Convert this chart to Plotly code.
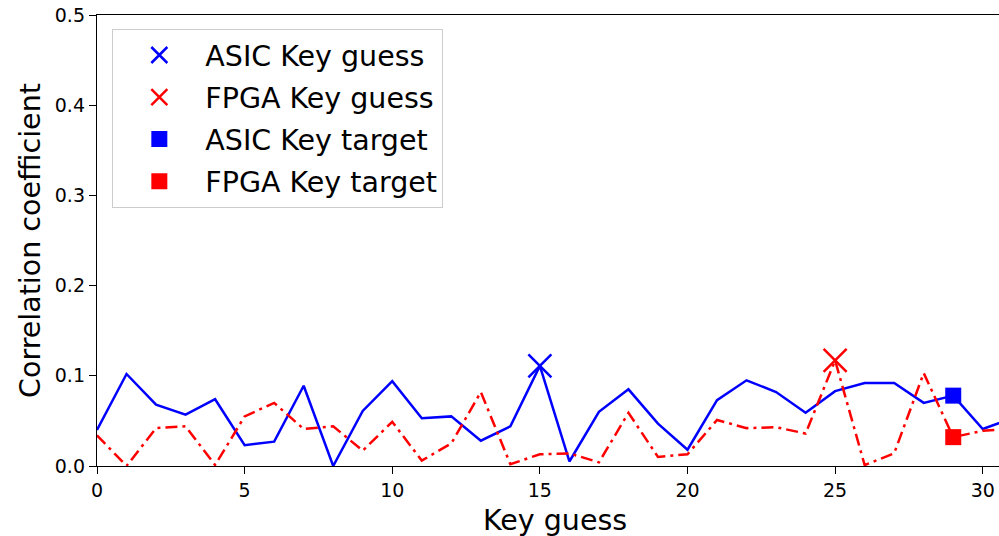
import plotly.graph_objects as go

# Key guess index (0..31)
key_guess = list(range(32))

# Correlation coefficient per key guess
asic_corr = [0.040, 0.102, 0.068, 0.057, 0.074, 0.023, 0.027, 0.089, 0.000, 0.061,
             0.094, 0.053, 0.055, 0.028, 0.044, 0.111, 0.005, 0.060, 0.085, 0.047,
             0.018, 0.073, 0.095, 0.082, 0.059, 0.083, 0.092, 0.092, 0.070, 0.078,
             0.041, 0.053]
fpga_corr = [0.034, 0.000, 0.042, 0.044, 0.001, 0.055, 0.070, 0.041, 0.044, 0.017,
             0.049, 0.006, 0.025, 0.082, 0.002, 0.013, 0.014, 0.004, 0.059, 0.010,
             0.013, 0.051, 0.042, 0.043, 0.036, 0.117, 0.001, 0.014, 0.103, 0.032,
             0.039, 0.041]

# Highlighted points
asic_guess_x, asic_guess_y = [15], [0.111]
fpga_guess_x, fpga_guess_y = [25], [0.117]
asic_target_x, asic_target_y = [29], [0.078]
fpga_target_x, fpga_target_y = [29], [0.032]

x_ticks = [0, 5, 10, 15, 20, 25, 30]
y_ticks = [0.0, 0.1, 0.2, 0.3, 0.4, 0.5]

BLUE = "#0000ff"
RED = "#ff0000"
FONT = "DejaVu Sans"

fig = go.Figure()

fig.add_trace(go.Scatter(x=key_guess, y=asic_corr, mode="lines",
                         line=dict(color=BLUE, width=2.5), showlegend=False))
fig.add_trace(go.Scatter(x=key_guess, y=fpga_corr, mode="lines",
                         line=dict(color=RED, width=2.5, dash="12px,5px,3px,5px"),
                         showlegend=False))

fig.add_trace(go.Scatter(x=asic_guess_x, y=asic_guess_y, mode="markers",
                         name="ASIC Key guess", legendgroup="a",
                         marker=dict(symbol="x-thin", size=23, color=BLUE,
                                     line=dict(color=BLUE, width=2.5))))
fig.add_trace(go.Scatter(x=fpga_guess_x, y=fpga_guess_y, mode="markers",
                         name="FPGA Key guess", legendgroup="b",
                         marker=dict(symbol="x-thin", size=23, color=RED,
                                     line=dict(color=RED, width=2.5))))
fig.add_trace(go.Scatter(x=asic_target_x, y=asic_target_y, mode="markers",
                         name="ASIC Key target", legendgroup="c",
                         marker=dict(symbol="square", size=16, color=BLUE)))
fig.add_trace(go.Scatter(x=fpga_target_x, y=fpga_target_y, mode="markers",
                         name="FPGA Key target", legendgroup="d",
                         marker=dict(symbol="square", size=16, color=RED)))

fig.add_annotation(text="Key guess", x=15.5, xref="x", y=-0.08, yref="paper",
                   yanchor="top", showarrow=False,
                   font=dict(family=FONT, size=28.5, color="black"))

fig.update_layout(
    width=999, height=536,
    margin=dict(l=97, r=0, t=15, b=70),
    paper_bgcolor="white", plot_bgcolor="white",
    font=dict(family=FONT, color="black"),
    legend=dict(x=0.017, y=0.969, xanchor="left", yanchor="top",
                bgcolor="white", bordercolor="#cccccc", borderwidth=1,
                font=dict(family=FONT, size=28.5, color="black"),
                tracegroupgap=2, traceorder="grouped", itemwidth=82),
    xaxis=dict(range=[0, 30.55], tickvals=x_ticks, showgrid=False, zeroline=False,
               showline=True, linecolor="black", linewidth=1.4, mirror=True,
               ticks="outside", ticklen=7, tickcolor="black", tickwidth=1.4,
               tickfont=dict(family=FONT, size=19)),
    yaxis=dict(range=[0, 0.5], tickvals=y_ticks, tickformat=".1f", showgrid=False,
               zeroline=False, showline=True, linecolor="black", linewidth=1.4,
               ticks="outside", ticklen=7, tickcolor="black", tickwidth=1.4,
               tickfont=dict(family=FONT, size=19),
               title=dict(text="Correlation coefficient", standoff=5,
                          font=dict(family=FONT, size=28.5))),
)

fig.write_html("out.html")
